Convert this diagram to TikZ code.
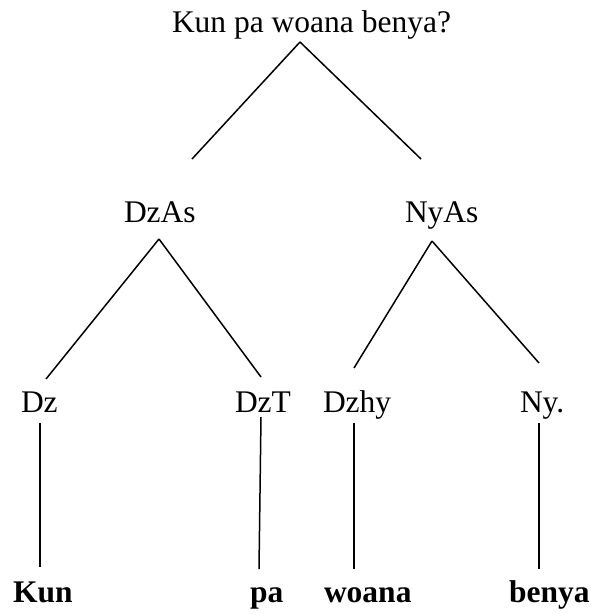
\documentclass[tikz,border=0pt]{standalone}
\usepackage{fontspec}
\setmainfont{Liberation Serif}
\begin{document}
\begin{tikzpicture}[x=1pt,y=-1pt,
  lbl/.style={anchor=base west,inner sep=0pt,outer sep=0pt,font=\fontsize{31.5}{36}\selectfont},
  word/.style={lbl,font=\fontsize{31.5}{36}\selectfont\bfseries},
  edge/.style={draw=black,line width=1.5pt}]
\useasboundingbox (0,0) rectangle (594,614);
% labels
\node[lbl] (root) at (172,32) {Kun pa woana benya?};
\node[lbl] (dzas) at (124,222) {DzAs};
\node[lbl] (nyas) at (405,222) {NyAs};
\node[lbl] (dz) at (21,412) {Dz};
\node[lbl] (dzt) at (235,412) {DzT};
\node[lbl] (dzhy) at (323,412) {Dzhy};
\node[lbl] (ny) at (520,412) {Ny.};
\node[word] (kun) at (13,602) {Kun};
\node[word] (pa) at (250,602) {pa};
\node[word] (woana) at (324,602) {woana};
\node[word] (benya) at (509,602) {benya};
% connector ends
\coordinate (rootB) at (300,42);
\coordinate (dzasT) at (192,159);
\coordinate (nyasT) at (421,159);
\coordinate (dzasB) at (159,239);
\coordinate (dzT) at (46,379);
\coordinate (dztT) at (261,377);
\coordinate (nyasB) at (432,241);
\coordinate (dzhyT) at (354,368);
\coordinate (nyT) at (539,363);
\coordinate (dzB) at (40,423);
\coordinate (kunT) at (40,567);
\coordinate (dztB) at (261,417);
\coordinate (paT) at (259,569);
\coordinate (dzhyB) at (354,423);
\coordinate (woanaT) at (354,569);
\coordinate (nyB) at (539,423);
\coordinate (benyaT) at (539,569);
% connectors
\draw[edge] (rootB) -- (dzasT);
\draw[edge] (rootB) -- (nyasT);
\draw[edge] (dzasB) -- (dzT);
\draw[edge] (dzasB) -- (dztT);
\draw[edge] (nyasB) -- (dzhyT);
\draw[edge] (nyasB) -- (nyT);
\draw[edge] (dzB) -- (kunT);
\draw[edge] (dztB) -- (paT);
\draw[edge] (dzhyB) -- (woanaT);
\draw[edge] (nyB) -- (benyaT);
\end{tikzpicture}
\end{document}
